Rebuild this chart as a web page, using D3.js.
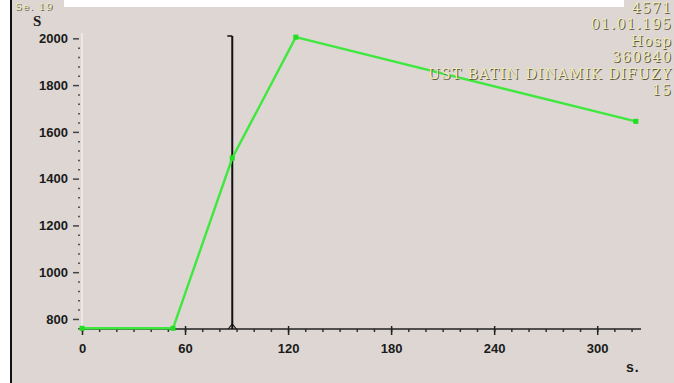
<!DOCTYPE html>
<html>
<head>
<meta charset="utf-8">
<script src="https://cdn.jsdelivr.net/npm/d3@7"></script>
<style>
  body { margin: 0; background: #fff; }
  svg { display: block; }
</style>
</head>
<body>
<script>
// data (time in s, signal S)
var times = [0, 53, 87.5, 124.5, 322.5];
var signal = [760, 760, 1488, 2005, 1645];
var cursorTime = [87.5];

var xTicks = [0, 60, 120, 180, 240, 300];
var yTicks = [800, 1000, 1200, 1400, 1600, 1800, 2000];

// header block, as much of it as the reference shows
var infoLines = ["4571", "01.01.195", "Hosp", "360840", "UST BATIN DINAMIK DIFUZY", "15"];

var W = 674, H = 383;
var bg = "#ddd6d2";

var svg = d3.select("body").append("svg")
    .attr("width", W)
    .attr("height", H);

// panel background + left frame line
svg.append("rect").attr("x", 10).attr("y", 7).attr("width", W - 10).attr("height", H - 7).attr("fill", bg);
svg.append("rect").attr("x", 12).attr("y", 0).attr("width", 52).attr("height", 8).attr("fill", bg);
svg.append("rect").attr("x", 624).attr("y", 0).attr("width", 50).attr("height", 8).attr("fill", bg);
svg.append("line").attr("x1", 11).attr("x2", 11).attr("y1", 0).attr("y2", H)
    .attr("stroke", "#111").attr("stroke-width", 2);

// scales
var x = d3.scaleLinear().domain([0, 325.5]).range([82, 641]);
var y = d3.scaleLinear().domain([757, 2010]).range([329, 36]);

// y axis: faint white spine, dash majors, dot minors
svg.append("line").attr("x1", 82).attr("x2", 82).attr("y1", 33).attr("y2", 329)
    .attr("stroke", "#f6f4f2").attr("stroke-width", 1.2);

var yMinor = svg.append("g")
    .attr("transform", "translate(80,0)")
    .call(d3.axisLeft(y).tickValues(d3.range(760, 2001, 40).filter(function(d) { return d % 200 !== 0; }))
      .tickSize(2).tickFormat(""));
yMinor.select(".domain").remove();
yMinor.selectAll(".tick line").attr("stroke", "#555").attr("stroke-width", 1.5);

var yAxis = svg.append("g")
    .attr("transform", "translate(79,0)")
    .call(d3.axisLeft(y).tickValues(yTicks).tickSize(6).tickPadding(5).tickFormat(d3.format("d")));
yAxis.select(".domain").remove();
yAxis.selectAll(".tick line").attr("stroke", "#444").attr("stroke-width", 1.5);
yAxis.selectAll(".tick text")
    .attr("fill", "#1a1a1a")
    .style("font", "bold 13px 'Liberation Sans', Arial, sans-serif");

// x axis
var xMinor = svg.append("g")
    .attr("transform", "translate(0,329)")
    .call(d3.axisBottom(x).tickValues(d3.range(0, 325, 10)).tickSize(3).tickFormat(""));
xMinor.select(".domain").remove();
xMinor.selectAll(".tick line").attr("stroke", "#333").attr("stroke-width", 1.5);

var xAxis = svg.append("g")
    .attr("transform", "translate(0,329)")
    .call(d3.axisBottom(x).tickValues(xTicks).tickSize(6).tickPadding(9).tickFormat(d3.format("d")));
xAxis.select(".domain").attr("d", "M80,0H641").attr("stroke", "#222").attr("stroke-width", 1.5);
xAxis.selectAll(".tick line").attr("y1", -3).attr("stroke", "#222").attr("stroke-width", 1.5);
xAxis.selectAll(".tick text")
    .attr("fill", "#1a1a1a")
    .style("font", "bold 13px 'Liberation Sans', Arial, sans-serif");

// axis titles
svg.append("text").attr("x", 626).attr("y", 372)
    .attr("fill", "#1a1a1a").attr("letter-spacing", 1)
    .style("font", "bold 14px 'Liberation Sans', Arial, sans-serif")
    .text("s.");
svg.append("text").attr("x", 33).attr("y", 26)
    .attr("fill", "#1a1a1a")
    .style("font", "bold 15px 'Liberation Serif', 'Times New Roman', serif")
    .text("S");

// cursor line
svg.selectAll(".cursor").data(cursorTime).enter().append("line")
    .attr("class", "cursor")
    .attr("x1", function(d) { return x(d); }).attr("x2", function(d) { return x(d); })
    .attr("y1", 36).attr("y2", 329)
    .attr("stroke", "#111").attr("stroke-width", 2);
svg.selectAll(".cap").data(cursorTime).enter().append("path")
    .attr("d", function(d) { return "M" + (x(d) - 5) + ",36H" + x(d); })
    .attr("stroke", "#111").attr("stroke-width", 1.5);
svg.selectAll(".foot").data(cursorTime).enter().append("path")
    .attr("d", function(d) { return "M" + (x(d) - 4) + ",329L" + x(d) + ",324L" + (x(d) + 4) + ",329"; })
    .attr("fill", "none").attr("stroke", "#111").attr("stroke-width", 1.2);

// signal curve
var pts = times.map(function(t, i) { return {t: t, v: signal[i]}; });
var line = d3.line()
    .x(function(d) { return x(d.t); })
    .y(function(d) { return y(d.v); });

svg.append("path")
    .datum(pts)
    .attr("d", line)
    .attr("fill", "none")
    .attr("stroke", "#3ee83e")
    .attr("stroke-width", 2.4);

svg.selectAll(".pt").data(pts).enter().append("rect")
    .attr("x", function(d) { return x(d.t) - 2.5; })
    .attr("y", function(d) { return y(d.v) - 2.5; })
    .attr("width", 5).attr("height", 5)
    .attr("fill", "#22dd22");

// embossed header text
function emboss(txt, px, py, anchor, size) {
  [[1, 1, "#5d5a48"], [0, 0, "#f0eab6"]].forEach(function(s) {
    svg.append("text").attr("x", px + s[0]).attr("y", py + s[1])
        .attr("text-anchor", anchor)
        .attr("fill", s[2])
        .attr("letter-spacing", 1.1)
        .style("font", size + "px 'DejaVu Serif', serif")
        .text(txt);
  });
}
emboss("Se. 19", 15, 10, "start", 10);
infoLines.forEach(function(t, i) {
  emboss(t, 672, 13 + i * 16.4, "end", 14);
});
</script>
</body>
</html>
